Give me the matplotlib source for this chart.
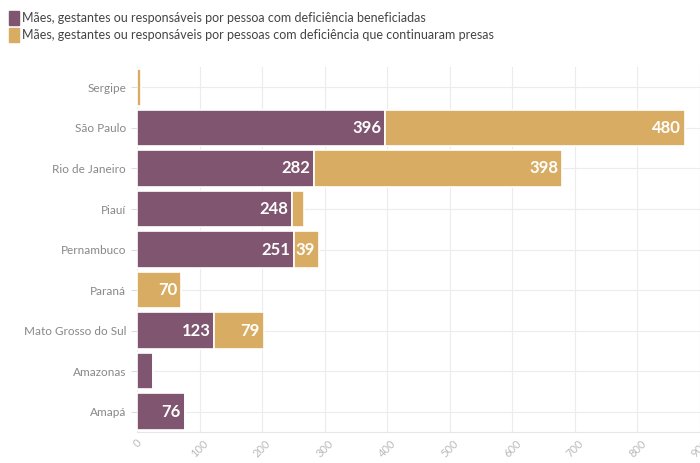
import matplotlib.pyplot as plt
from matplotlib.patches import Patch

plt.rcParams['font.family'] = ['Lato', 'DejaVu Sans']

estados = ['Sergipe', 'São Paulo', 'Rio de Janeiro', 'Piauí', 'Pernambuco',
           'Paraná', 'Mato Grosso do Sul', 'Amazonas', 'Amapá']
beneficiadas = [0, 396, 282, 248, 251, 0, 123, 26, 76]
presas = [6, 480, 398, 18, 39, 70, 79, 0, 0]
serie_nomes = ['Mães, gestantes ou responsáveis por pessoa com deficiência beneficiadas',
               'Mães, gestantes ou responsáveis por pessoas com deficiência que continuaram presas']
ticks = [0, 100, 200, 300, 400, 500, 600, 700, 800, 900]

roxo = '#7f5570'
laranja = '#d8ad63'

fig = plt.figure(figsize=(7, 4.63), dpi=100)
ax = fig.add_axes([0.196, 0.067, 0.804, 0.788])

y = list(range(len(estados)))
ax.barh(y, beneficiadas, height=0.9, color=roxo, edgecolor='white', linewidth=1.2, zorder=3)
ax.barh(y, presas, left=beneficiadas, height=0.9, color=laranja, edgecolor='white', linewidth=1.2, zorder=3)

for i in y:
    for val, left in ((beneficiadas[i], 0), (presas[i], beneficiadas[i])):
        if val >= 35:
            ax.text(left + val - 6, i, str(val), ha='right', va='center', color='white',
                    fontsize=12, fontweight='bold', zorder=4)

ax.set_xlim(0, 900)
ax.set_ylim(len(estados) - 0.5, -0.5)
ax.set_yticks(y)
ax.set_yticklabels(estados, fontsize=8.5, color='#888888')
ax.set_xticks(ticks)
ax.set_xticklabels([str(t) for t in ticks], rotation=45, fontsize=8, color='#bbbbbb')
ax.grid(axis='x', color='#ececec', linewidth=0.8, zorder=0)
ax.grid(axis='y', color='#ececec', linewidth=0.8, zorder=0)
ax.tick_params(axis='y', length=4, color='#dddddd', pad=4)
ax.tick_params(axis='x', length=0, pad=4)
for s in ax.spines.values():
    s.set_visible(False)
ax.spines['bottom'].set_visible(True)
ax.spines['bottom'].set_color('#e6e6e6')

handles = [Patch(color=roxo), Patch(color=laranja)]
fig.legend(handles, serie_nomes, loc='upper left', bbox_to_anchor=(0.0, 0.995), frameon=False,
           fontsize=9, handlelength=0.8, handleheight=1.3, handletextpad=0.3,
           labelspacing=0.3, labelcolor='#444444', borderaxespad=0.3)

fig.savefig('out.png', dpi=100)
